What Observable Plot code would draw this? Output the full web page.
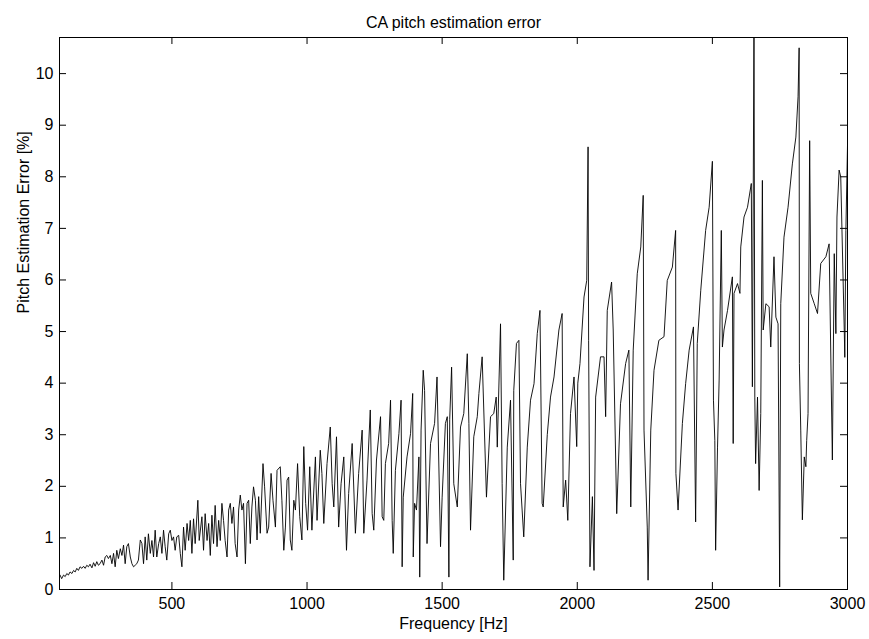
<!DOCTYPE html>
<html>
<head>
<meta charset="utf-8">
<script src="https://cdn.jsdelivr.net/npm/d3@7"></script>
<script src="https://cdn.jsdelivr.net/npm/@observablehq/plot@0.6"></script>
<style>
  html, body { margin: 0; padding: 0; background: #fff; }
  #chart { width: 869px; height: 639px; }
</style>
</head>
<body>
<div id="chart"></div>
<script>
const titleText = "CA pitch estimation error";
const xLabelText = "Frequency [Hz]";
const yLabelText = "Pitch Estimation Error [%]";
const xTicks = [500, 1000, 1500, 2000, 2500, 3000];
const yTicks = [0, 1, 2, 3, 4, 5, 6, 7, 8, 9, 10];

// [frequency Hz, error %], by frequency band
const band1 = [[86,.28],[92,.21],[99,.28],[105,.25],[111,.31],[117,.28],[123,.34],[130,.31],[136,.37],[142,.34],[148,.41],[154,.37],[160,.44],[167,.41],[173,.45],[179,.41],[185,.47],[191,.44],[197,.49],[204,.42],[210,.52],[216,.45],[222,.54],[228,.47],[234,.5],[241,.57],[247,.47],[253,.63],[259,.66],[265,.6],[272,.66],[278,.5],[284,.7],[290,.44],[296,.76],[302,.6],[309,.79],[315,.66],[321,.86],[327,.5],[333,.83],[339,.89],[346,.63],[352,.5],[358,.44],[364,.47],[370,.5],[376,.57],[383,.96],[389,.89],[395,.5],[401,1.02],[407,.57],[413,1.08],[420,.7],[426,.95],[432,.63],[438,1.15],[444,.63],[451,.89],[457,1.02],[463,.7],[469,1.15],[475,.83],[481,.57],[488,1.08],[494,1.15],[500,.95],[506,1.02],[512,.76],[518,1.02],[525,1.05],[531,.7],[537,.44],[543,1.21],[549,.76],[556,1.28],[562,.95],[568,1.34],[574,.7],[580,1.37],[586,.89],[596,1.73],[601,.95],[611,1.41],[617,.76],[623,1.47],[630,.95],[636,1.28],[642,.66],[648,1.44],[654,.89],[660,1.63],[667,.83],[673,1.34],[679,.95],[685,1.67],[691,1.34],[697,.95],[704,.63],[710,1.54],[716,1.67],[722,1.28]];
const band2 = [[728,1.6],[734,.89],[741,.63],[747,1.54],[753,1.83],[759,1.54],[765,1.67],[772,.5],[778,1.67],[784,1.73],[790,.89],[796,1.6],[802,1.99],[809,1.73],[815,.96],[821,1.8],[827,1.09],[837,2.44],[843,1.99],[852,1.09],[858,1.21],[867,2.25],[874,1.73],[883,1.21],[889,2.31],[901,2.38],[907,1.73],[914,.76],[920,1.21],[926,2.12],[932,2.18],[938,.96],[944,.76],[951,1.73],[957,1.54],[965,2.44],[973,1.41],[981,.96],[988,2.77],[995,1.67],[1002,1.15],[1010,2.38],[1018,1.15],[1031,2.57],[1037,1.34],[1049,2.7],[1055,2.25],[1062,1.28],[1074,2.44],[1086,3.15],[1093,2.05],[1099,1.6],[1109,2.96],[1117,1.21],[1126,2.05],[1136,2.57],[1146,.76],[1154,1.86],[1167,2.83],[1179,1.09],[1191,2.25],[1204,3.09],[1210,1.09],[1222,2.12],[1234,3.48],[1241,1.47],[1247,1.15],[1257,2.51]];
const band3 = [[1272,3.35],[1278,1.41],[1284,1.34],[1290,2.44],[1302,2.83],[1309,3.67],[1315,1.34],[1319,.7],[1327,2.31],[1340,3.02],[1348,3.67],[1352,.44],[1356,1.79],[1370,2.57],[1383,3.02],[1391,3.8],[1393,.63],[1398,1.67],[1405,1.54],[1414,2.57],[1417,.24],[1422,3.09],[1430,4.25],[1435,3.86],[1444,.89],[1457,2.83],[1472,3.22],[1481,4.12],[1494,.83],[1500,1.79],[1512,3.22],[1519,3.35],[1525,.24],[1528,3.3],[1535,4.31],[1543,2.05],[1556,1.6],[1568,3.15],[1580,3.41],[1593,4.57],[1599,3.22],[1605,1.15],[1617,2.96],[1630,3.35],[1636,3.8],[1648,4.51],[1664,1.79],[1679,3.35],[1691,3.41],[1700,3.73],[1704,2.76],[1716,5.15],[1722,2.05],[1728,.18],[1741,2.76],[1753,3.67],[1763,.57],[1765,3.86],[1775,4.77],[1784,4.83],[1790,2.05],[1796,1.54],[1802,1.02],[1815,2.76],[1827,3.67],[1840,3.99],[1852,4.96],[1862,5.41],[1870,1.67]];
const band4 = [[1874,1.6],[1889,3.0],[1901,3.73],[1914,4.12],[1932,5.03],[1944,5.35],[1948,1.6],[1957,2.12],[1965,1.34],[1975,3.41],[1988,4.12],[1998,2.77],[2002,4.0],[2010,4.38],[2025,5.67],[2035,5.99],[2040,8.58],[2042,4.83],[2047,.44],[2056,1.8],[2062,.37],[2068,3.73],[2086,4.51],[2099,4.51],[2105,3.35],[2111,5.41],[2127,5.96],[2133,5.03],[2146,1.47],[2160,3.6],[2179,4.38],[2191,4.64],[2198,1.6],[2207,4.64],[2222,6.12],[2235,6.64],[2244,7.64],[2247,3.09],[2259,1.21],[2262,.18],[2272,3.09],[2284,4.25],[2302,4.83],[2321,4.9],[2333,5.99],[2352,6.25],[2364,6.96],[2365,2.25],[2373,1.54],[2389,3.22],[2401,3.99],[2414,4.64],[2430,5.09],[2438,1.31],[2444,4.77],[2457,5.8],[2475,6.96],[2488,7.41]];
const band5 = [[2500,8.3],[2504,3.67],[2509,2.89],[2512,.76],[2519,2.76],[2525,4.06],[2533,6.96],[2537,4.7],[2543,5.03],[2556,5.41],[2574,6.06],[2577,2.83],[2580,5.74],[2593,5.93],[2602,5.74],[2605,6.64],[2617,7.22],[2630,7.41],[2644,7.87],[2648,3.93],[2654,11],[2657,3.73],[2660,2.44],[2667,3.73],[2673,1.92],[2679,3.41],[2685,7.93],[2688,5.03],[2698,5.54],[2710,5.48],[2716,4.7],[2728,6.45],[2735,5.28],[2743,5.15],[2749,.05],[2753,5.54],[2765,6.83],[2780,7.41],[2796,8.25],[2809,8.77],[2817,9.55],[2821,10.5],[2822,4.38],[2827,3.09],[2833,1.35],[2840,2.57],[2846,2.38],[2849,2.89],[2854,3.41],[2860,8.7],[2864,5.74],[2877,5.54],[2889,5.35],[2901,6.32],[2920,6.45],[2932,6.7],[2944,2.51],[2951,6.51],[2957,4.96],[2961,7.22],[2969,8.13],[2975,8.0],[2988,5.03],[2990,4.5],[2994,6.96],[3000,8.6]];

const data = [...band1, ...band2, ...band3, ...band4, ...band5].map(([f, e]) => ({f, e}));

const W = 869, H = 639, mT = 37, mR = 22, mB = 50, mL = 59;
const fw = W - mL - mR, fh = H - mT - mB, tk = 7;

const chart = Plot.plot({
  width: W, height: H,
  marginTop: mT, marginRight: mR, marginBottom: mB, marginLeft: mL,
  style: {fontFamily: "'Liberation Sans', Arial, Helvetica, sans-serif", fontSize: "16px", background: "#fff", color: "#000", overflow: "visible"},
  x: {domain: [84, 3000]},
  y: {domain: [0, 10.7]},
  marks: [
    Plot.line(data, {x: "f", y: "e", stroke: "#000", strokeWidth: 0.9, clip: true}),
    Plot.frame({stroke: "#000", strokeWidth: 1}),
    Plot.tickX(xTicks, {x: d => d, stroke: "#000", insetTop: fh - tk}),
    Plot.tickX(xTicks, {x: d => d, stroke: "#000", insetBottom: fh - tk}),
    Plot.tickY(yTicks, {y: d => d, stroke: "#000", insetRight: fw - tk}),
    Plot.tickY(yTicks, {y: d => d, stroke: "#000", insetLeft: fw - tk}),
    Plot.axisX({ticks: xTicks, tickFormat: d => String(d), tickSize: 0, tickPadding: 8, label: null, fontSize: 16}),
    Plot.axisY({ticks: yTicks, tickFormat: d => String(d), tickSize: 0, tickPadding: 6, label: null, fontSize: 16}),
    Plot.text([xLabelText], {text: d => d, frameAnchor: "bottom", dy: 34, lineAnchor: "middle", fontSize: 16}),
    Plot.text([yLabelText], {text: d => d, frameAnchor: "left", dx: -36, rotate: -90, lineAnchor: "middle", fontSize: 16}),
    Plot.text([titleText], {text: d => d, frameAnchor: "top", dy: -15, lineAnchor: "middle", fontSize: 16})
  ]
});
document.getElementById("chart").appendChild(chart);
</script>
</body>
</html>
